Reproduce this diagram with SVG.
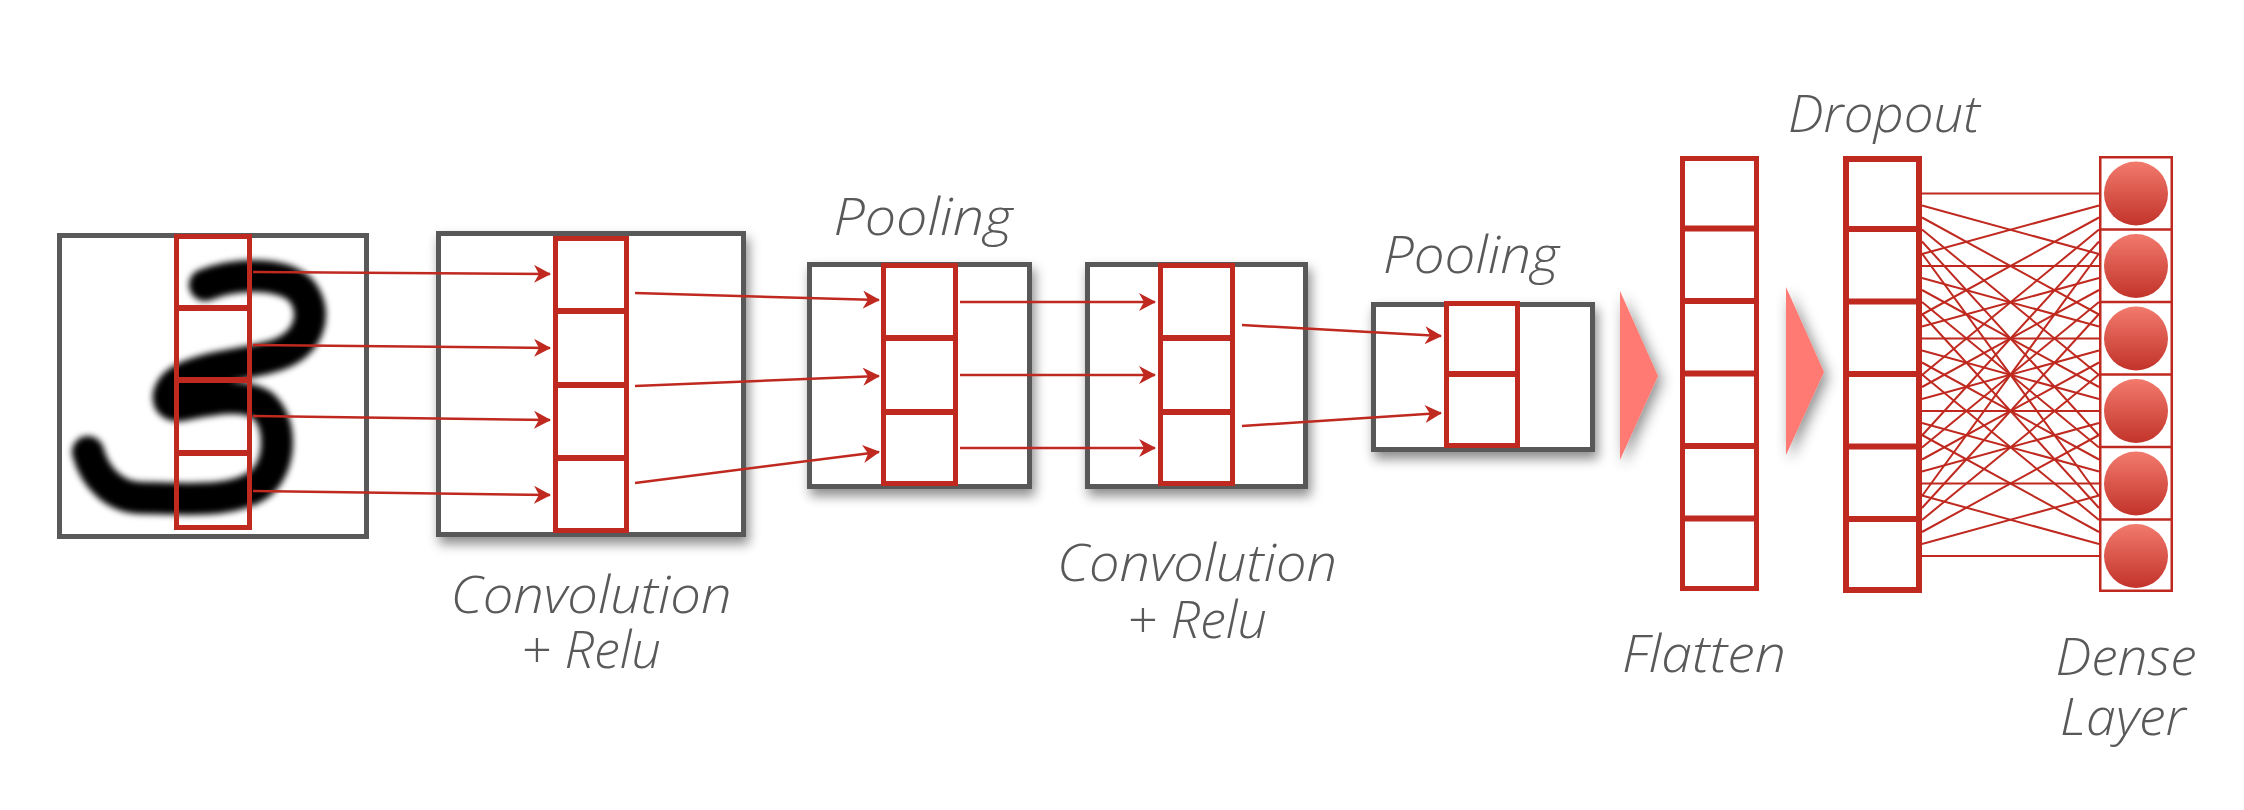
<svg xmlns="http://www.w3.org/2000/svg" width="2244" height="810" viewBox="0 0 2244 810">
<defs>
<style>
.box{fill:#fff;stroke:#595959;stroke-width:5}
.col{fill:#fff;stroke:#BF291F;stroke-width:5}
.div{stroke:#BF291F;stroke-width:6}
.dcol{fill:none;stroke:#BF291F;stroke-width:2.5}
.ddiv{stroke:#BF291F;stroke-width:2.5}
.arr{stroke:#BF291F;stroke-width:2.5;fill:none;marker-end:url(#ah)}
.cn{stroke:#BF291F;stroke-width:2}
.lbl{font-family:"Open Sans","Liberation Sans",sans-serif;font-style:italic;font-weight:300;font-size:52px;fill:#595959;text-anchor:middle}
.tri{fill:#FF7A73}
</style>
<marker id="ah" markerWidth="18" markerHeight="18" refX="16" refY="9" orient="auto" markerUnits="userSpaceOnUse">
<path d="M0,0 L17,9 L0,18 L5,9 z" fill="#BF291F"/>
</marker>
<filter id="sh" x="-20%" y="-20%" width="140%" height="150%">
<feDropShadow dx="3" dy="7" stdDeviation="6" flood-color="#000" flood-opacity="0.45"/>
</filter>
<filter id="tsh" x="-80%" y="-20%" width="260%" height="140%">
<feDropShadow dx="4" dy="5" stdDeviation="7" flood-color="#000" flood-opacity="0.45"/>
</filter>
<filter id="blur" x="-10%" y="-10%" width="120%" height="120%">
<feGaussianBlur stdDeviation="3"/>
</filter>
<clipPath id="inclip"><rect x="62" y="238" width="302" height="296"/></clipPath>
<linearGradient id="cg" x1="0" y1="0" x2="0" y2="1">
<stop offset="0" stop-color="#F27A6D"/>
<stop offset="1" stop-color="#C2332A"/>
</linearGradient>
</defs>

<g id="input">
<rect class="box" x="59.5" y="235.5" width="307" height="301"/>
<g clip-path="url(#inclip)">
<path d="M205,285 C238,272 288,272 303,293 C318,315 308,342 282,353 C255,365 202,365 178,382 C165,392 165,408 182,405 C208,400 242,392 262,405 C282,422 282,462 262,482 C235,505 182,498 142,498 C115,498 95,478 88,452" fill="none" stroke="#000" stroke-width="32" stroke-linecap="round" stroke-linejoin="round" filter="url(#blur)"/>
</g>
<rect class="col" x="176.5" y="236.5" width="73" height="291" style="fill:none"/>
<line class="div" x1="176.5" y1="308" x2="249.5" y2="308"/>
<line class="div" x1="176.5" y1="380" x2="249.5" y2="380"/>
<line class="div" x1="176.5" y1="453" x2="249.5" y2="453"/>
</g>

<g id="conv1">
<rect class="box" x="438.5" y="233.5" width="305" height="301" filter="url(#sh)"/>
<rect class="col" x="555.5" y="238.5" width="71" height="292"/>
<line class="div" x1="555.5" y1="311" x2="626.5" y2="311"/>
<line class="div" x1="555.5" y1="385" x2="626.5" y2="385"/>
<line class="div" x1="555.5" y1="458" x2="626.5" y2="458"/>
<text class="lbl" x="591" y="613" textLength="281" lengthAdjust="spacingAndGlyphs">Convolution</text>
<text class="lbl" x="591" y="668" textLength="140" lengthAdjust="spacingAndGlyphs">+ Relu</text>
</g>

<g id="pool1">
<rect class="box" x="809.5" y="264.5" width="220" height="222" filter="url(#sh)"/>
<rect class="col" x="883.5" y="265.5" width="72" height="218"/>
<line class="div" x1="883.5" y1="338" x2="955.5" y2="338"/>
<line class="div" x1="883.5" y1="412" x2="955.5" y2="412"/>
<text class="lbl" x="923" y="235" textLength="179" lengthAdjust="spacingAndGlyphs">Pooling</text>
</g>

<g id="conv2">
<rect class="box" x="1087.5" y="264.5" width="218" height="222" filter="url(#sh)"/>
<rect class="col" x="1160.5" y="265.5" width="72" height="218"/>
<line class="div" x1="1160.5" y1="338" x2="1232.5" y2="338"/>
<line class="div" x1="1160.5" y1="412" x2="1232.5" y2="412"/>
<text class="lbl" x="1197" y="581" textLength="280" lengthAdjust="spacingAndGlyphs">Convolution</text>
<text class="lbl" x="1197" y="638" textLength="140" lengthAdjust="spacingAndGlyphs">+ Relu</text>
</g>

<g id="pool2">
<rect class="box" x="1373.5" y="304.5" width="219" height="145" filter="url(#sh)"/>
<rect class="col" x="1446.5" y="303.5" width="71" height="142"/>
<line class="div" x1="1446.5" y1="374" x2="1517.5" y2="374"/>
<text class="lbl" x="1471" y="273" textLength="176" lengthAdjust="spacingAndGlyphs">Pooling</text>
</g>

<g id="arrow1">
<polygon class="tri" points="1620,291 1658,376 1620,460" filter="url(#tsh)"/>
</g>

<g id="flatten">
<rect class="col" x="1682.5" y="158.5" width="74" height="430"/>
<line class="div" x1="1682.5" y1="228.5" x2="1756.5" y2="228.5"/>
<line class="div" x1="1682.5" y1="301" x2="1756.5" y2="301"/>
<line class="div" x1="1682.5" y1="373.5" x2="1756.5" y2="373.5"/>
<line class="div" x1="1682.5" y1="446" x2="1756.5" y2="446"/>
<line class="div" x1="1682.5" y1="518.5" x2="1756.5" y2="518.5"/>
<text class="lbl" x="1704" y="672" textLength="164" lengthAdjust="spacingAndGlyphs">Flatten</text>
</g>

<g id="arrow2">
<polygon class="tri" points="1786,287 1824,372 1786,455" filter="url(#tsh)"/>
</g>

<g id="dropout">
<rect class="col" x="1846" y="159" width="73" height="431" style="stroke-width:6"/>
<line class="div" x1="1846" y1="229" x2="1919" y2="229"/>
<line class="div" x1="1846" y1="301.5" x2="1919" y2="301.5"/>
<line class="div" x1="1846" y1="374" x2="1919" y2="374"/>
<line class="div" x1="1846" y1="446.5" x2="1919" y2="446.5"/>
<line class="div" x1="1846" y1="519" x2="1919" y2="519"/>
<text class="lbl" x="1884" y="132" textLength="192" lengthAdjust="spacingAndGlyphs">Dropout</text>
</g>

<g id="dense">
<rect class="dcol" x="2100.25" y="157.25" width="71.5" height="433.5"/>
<line class="ddiv" x1="2100" y1="229.5" x2="2172" y2="229.5"/>
<line class="ddiv" x1="2100" y1="302" x2="2172" y2="302"/>
<line class="ddiv" x1="2100" y1="374.5" x2="2172" y2="374.5"/>
<line class="ddiv" x1="2100" y1="447" x2="2172" y2="447"/>
<line class="ddiv" x1="2100" y1="519.5" x2="2172" y2="519.5"/>
<circle cx="2136" cy="193.5" r="32" fill="url(#cg)"/>
<circle cx="2136" cy="266" r="32" fill="url(#cg)"/>
<circle cx="2136" cy="338.5" r="32" fill="url(#cg)"/>
<circle cx="2136" cy="411" r="32" fill="url(#cg)"/>
<circle cx="2136" cy="483.5" r="32" fill="url(#cg)"/>
<circle cx="2136" cy="556" r="32" fill="url(#cg)"/>
<text class="lbl" x="2126" y="675" textLength="141" lengthAdjust="spacingAndGlyphs">Dense</text>
<text class="lbl" x="2123" y="735" textLength="126" lengthAdjust="spacingAndGlyphs">Layer</text>
</g>

<g id="connectors">
<line class="arr" x1="253" y1="272" x2="550" y2="274"/>
<line class="arr" x1="253" y1="345" x2="550" y2="348"/>
<line class="arr" x1="253" y1="416" x2="550" y2="420"/>
<line class="arr" x1="253" y1="491" x2="550" y2="495"/>
<line class="arr" x1="635" y1="293" x2="879" y2="300"/>
<line class="arr" x1="635" y1="386" x2="879" y2="376"/>
<line class="arr" x1="635" y1="483" x2="879" y2="452"/>
<line class="arr" x1="960" y1="302" x2="1155" y2="302"/>
<line class="arr" x1="960" y1="375" x2="1155" y2="375"/>
<line class="arr" x1="960" y1="448" x2="1155" y2="448"/>
<line class="arr" x1="1242" y1="325" x2="1441" y2="336"/>
<line class="arr" x1="1242" y1="426" x2="1441" y2="413"/>
<g id="dense-links">
<line class="cn" x1="1922" y1="193.5" x2="2099" y2="193.5"/>
<line class="cn" x1="1922" y1="205.5" x2="2099" y2="254"/>
<line class="cn" x1="1922" y1="217.5" x2="2099" y2="314.5"/>
<line class="cn" x1="1922" y1="229.5" x2="2099" y2="375"/>
<line class="cn" x1="1922" y1="241.5" x2="2099" y2="435.5"/>
<line class="cn" x1="1922" y1="253.5" x2="2099" y2="496"/>
<line class="cn" x1="1922" y1="254" x2="2099" y2="205.5"/>
<line class="cn" x1="1922" y1="266" x2="2099" y2="266"/>
<line class="cn" x1="1922" y1="278" x2="2099" y2="326.5"/>
<line class="cn" x1="1922" y1="290" x2="2099" y2="387"/>
<line class="cn" x1="1922" y1="302" x2="2099" y2="447.5"/>
<line class="cn" x1="1922" y1="314" x2="2099" y2="508"/>
<line class="cn" x1="1922" y1="314.5" x2="2099" y2="217.5"/>
<line class="cn" x1="1922" y1="326.5" x2="2099" y2="278"/>
<line class="cn" x1="1922" y1="338.5" x2="2099" y2="338.5"/>
<line class="cn" x1="1922" y1="350.5" x2="2099" y2="399"/>
<line class="cn" x1="1922" y1="362.5" x2="2099" y2="459.5"/>
<line class="cn" x1="1922" y1="374.5" x2="2099" y2="520"/>
<line class="cn" x1="1922" y1="375" x2="2099" y2="229.5"/>
<line class="cn" x1="1922" y1="387" x2="2099" y2="290"/>
<line class="cn" x1="1922" y1="399" x2="2099" y2="350.5"/>
<line class="cn" x1="1922" y1="411" x2="2099" y2="411"/>
<line class="cn" x1="1922" y1="423" x2="2099" y2="471.5"/>
<line class="cn" x1="1922" y1="435" x2="2099" y2="532"/>
<line class="cn" x1="1922" y1="435.5" x2="2099" y2="241.5"/>
<line class="cn" x1="1922" y1="447.5" x2="2099" y2="302"/>
<line class="cn" x1="1922" y1="459.5" x2="2099" y2="362.5"/>
<line class="cn" x1="1922" y1="471.5" x2="2099" y2="423"/>
<line class="cn" x1="1922" y1="483.5" x2="2099" y2="483.5"/>
<line class="cn" x1="1922" y1="495.5" x2="2099" y2="544"/>
<line class="cn" x1="1922" y1="496" x2="2099" y2="253.5"/>
<line class="cn" x1="1922" y1="508" x2="2099" y2="314"/>
<line class="cn" x1="1922" y1="520" x2="2099" y2="374.5"/>
<line class="cn" x1="1922" y1="532" x2="2099" y2="435"/>
<line class="cn" x1="1922" y1="544" x2="2099" y2="495.5"/>
<line class="cn" x1="1922" y1="556" x2="2099" y2="556"/>
</g>
</g>
</svg>
